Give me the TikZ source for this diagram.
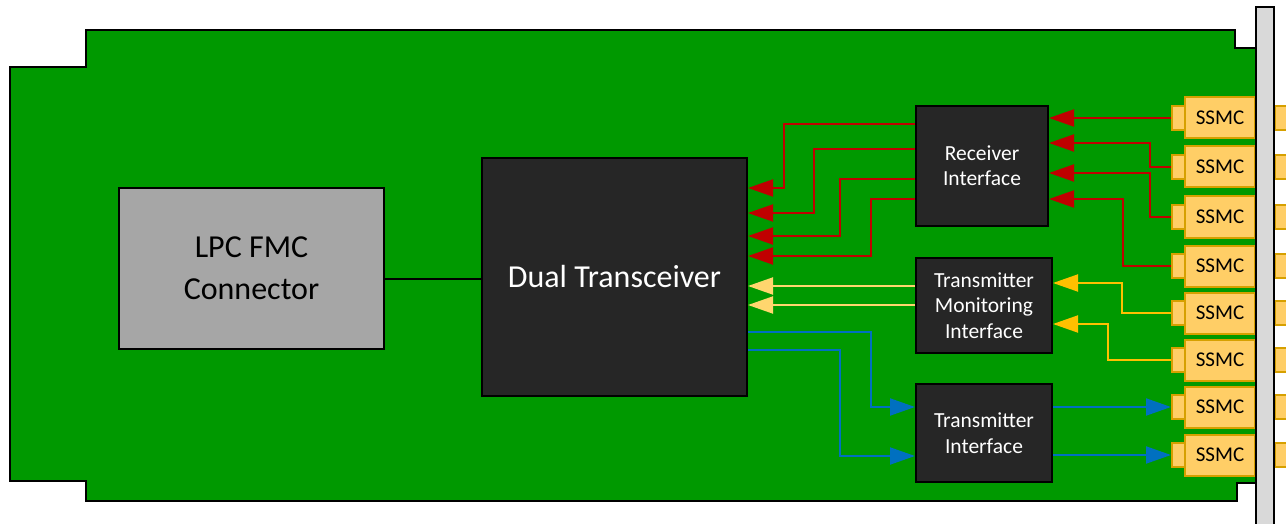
\documentclass[tikz,border=0pt]{standalone}
\usepackage{fontspec}
\setmainfont{Carlito}
\usetikzlibrary{calc, positioning}
\usetikzlibrary{arrows.meta}

\definecolor{pcb}{RGB}{0,153,0}
\definecolor{boxdark}{RGB}{38,38,38}
\definecolor{fmcgrey}{RGB}{166,166,166}
\definecolor{panelgrey}{RGB}{217,217,217}
\definecolor{ssmcfill}{RGB}{255,206,102}
\definecolor{ssmcedge}{RGB}{214,160,0}
\definecolor{rxred}{RGB}{192,0,0}
\definecolor{txblue}{RGB}{0,112,192}
\definecolor{monyel}{RGB}{255,192,0}
\definecolor{monlight}{RGB}{255,214,110}

\tikzset{
  blk/.style={draw=black, line width=2, fill=boxdark, text=white, inner sep=0, align=center},
  ssmcbody/.style={draw=ssmcedge, line width=2, fill=ssmcfill, inner sep=0,
    minimum width=70, minimum height=41, font=\fontsize{21}{21}\selectfont},
  ssmcpin/.style={draw=ssmcedge, line width=2, fill=ssmcfill, inner sep=0,
    minimum width=13, minimum height=24},
  tip/.style={-{Triangle[length=25pt,width=17pt]}},
  rxline/.style={tip, draw=rxred, line width=2},
  txline/.style={tip, draw=txblue, line width=2},
  monline/.style={tip, draw=monyel, line width=2},
  lightline/.style={tip, draw=monlight, line width=2},
}

\begin{document}
\begin{tikzpicture}[x=1pt, y=-1pt]
\useasboundingbox (0,0) rectangle (1286,524);
\clip (0,0) rectangle (1286,524);

% board
\draw[line width=2, fill=pcb] (10,67) -- (86,67) -- (86,30) -- (1235,30) -- (1235,48)
  -- (1256,48) -- (1256,483) -- (1237,483) -- (1237,501) -- (86,501) -- (86,481)
  -- (10,481) -- cycle;

% blocks
\node[blk, fill=fmcgrey, text=black, minimum width=265, minimum height=161,
  font=\fontsize{32}{42}\selectfont] (lpc) at (251.5,268.5) {LPC FMC\\Connector};
\node[blk, minimum width=265, minimum height=238,
  font=\fontsize{32}{38}\selectfont] (dt) at (614.5,277) {Dual Transceiver};
\node[blk, minimum width=132, minimum height=120,
  font=\fontsize{21.5}{25}\selectfont] (ri) at (982,166) {Receiver\\Interface};
\node[blk, minimum width=136, minimum height=95,
  font=\fontsize{21.5}{25.5}\selectfont] (tmi) at (984,305.5) {Transmitter\\Monitoring\\Interface};
\node[blk, minimum width=136, minimum height=98,
  font=\fontsize{21.5}{25.5}\selectfont] (ti) at (984,433) {Transmitter\\Interface};

\draw[line width=1.5] (lpc.east |- 0,279) -- (dt.west |- 0,279);

% SSMC connectors
\foreach \i/\y in {1/118,2/167,3/217,4/266,5/313,6/360,7/407,8/455} {
  \node[ssmcpin] (p\i) at (1178.5,\y) {};
  \node[ssmcbody] (s\i) at (1220,\y) {SSMC};
  \node[ssmcpin, minimum width=16] (q\i) at (1283,\y) {};
}

% front panel
\draw[line width=2, fill=panelgrey] (1256,7) rectangle (1274,540);

% receive paths
\draw[rxline] (p1.west) -- (ri.east |- p1);
\draw[rxline] (p2.west) -| (1150,143) -- (ri.east |- 0,143);
\draw[rxline] (p3.west) -| (1150,173) -- (ri.east |- 0,173);
\draw[rxline] (p4.west) -| (1123,199) -- (ri.east |- 0,199);
\foreach \a/\x/\b in {124/784/188, 149/814/213, 179/840/236, 199/871/256}
  \draw[rxline] (ri.west |- 0,\a) -| (\x,\b) -- (dt.east |- 0,\b);

% monitoring paths
\draw[monline] (p5.west) -| (1122,283) -- (tmi.east |- 0,283);
\draw[monline] (p6.west) -| (1108,324) -- (tmi.east |- 0,324);
\draw[lightline] (tmi.west |- 0,286) -- (dt.east |- 0,286);
\draw[lightline] (tmi.west |- 0,305) -- (dt.east |- 0,305);

% transmit paths
\draw[txline] (dt.east |- 0,332) -| (871,407) -- (ti.west |- 0,407);
\draw[txline] (dt.east |- 0,350) -| (840,456) -- (ti.west |- 0,456);
\draw[txline] (ti.east |- p7) -- (p7.west);
\draw[txline] (ti.east |- p8) -- (p8.west);
\end{tikzpicture}
\end{document}
